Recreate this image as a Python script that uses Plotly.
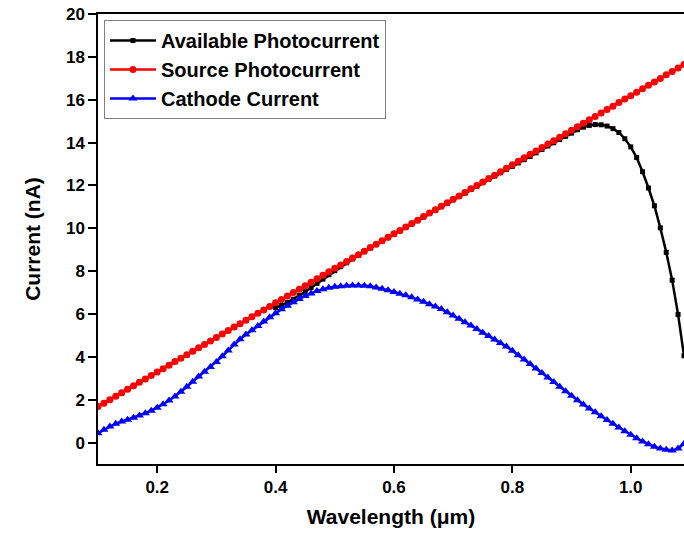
import plotly.graph_objects as go

wavelength = [0.10, 0.11, 0.12, 0.13, 0.14, 0.15, 0.16, 0.17, 0.18, 0.19,
              0.20, 0.21, 0.22, 0.23, 0.24, 0.25, 0.26, 0.27, 0.28, 0.29,
              0.30, 0.31, 0.32, 0.33, 0.34, 0.35, 0.36, 0.37, 0.38, 0.39,
              0.40, 0.41, 0.42, 0.43, 0.44, 0.45, 0.46, 0.47, 0.48, 0.49,
              0.50, 0.51, 0.52, 0.53, 0.54, 0.55, 0.56, 0.57, 0.58, 0.59,
              0.60, 0.61, 0.62, 0.63, 0.64, 0.65, 0.66, 0.67, 0.68, 0.69,
              0.70, 0.71, 0.72, 0.73, 0.74, 0.75, 0.76, 0.77, 0.78, 0.79,
              0.80, 0.81, 0.82, 0.83, 0.84, 0.85, 0.86, 0.87, 0.88, 0.89,
              0.90, 0.91, 0.92, 0.93, 0.94, 0.95, 0.96, 0.97, 0.98, 0.99,
              1.00, 1.01, 1.02, 1.03, 1.04, 1.05, 1.06, 1.07, 1.08, 1.09]

available = [1.68, 1.84, 2.00, 2.16, 2.32, 2.49, 2.65, 2.81, 2.97, 3.13,
             3.29, 3.45, 3.61, 3.78, 3.94, 4.10, 4.26, 4.42, 4.58, 4.74,
             4.90, 5.07, 5.23, 5.39, 5.55, 5.71, 5.87, 6.03, 6.19, 6.35,
             6.30, 6.40, 6.54, 6.69, 6.86, 7.04, 7.23, 7.43, 7.63, 7.83,
             8.02, 8.21, 8.39, 8.57, 8.74, 8.91, 9.08, 9.24, 9.40, 9.56,
             9.72, 9.88, 10.04, 10.20, 10.36, 10.53, 10.69, 10.85, 11.01, 11.17,
             11.33, 11.49, 11.65, 11.81, 11.97, 12.13, 12.28, 12.44, 12.59, 12.74,
             12.89, 13.05, 13.20, 13.35, 13.52, 13.68, 13.84, 13.99, 14.14, 14.29,
             14.44, 14.60, 14.72, 14.80, 14.84, 14.83, 14.77, 14.65, 14.47, 14.18,
             13.80, 13.30, 12.64, 11.88, 11.05, 10.02, 8.88, 7.58, 5.98, 4.05]

source = [1.68, 1.84, 2.00, 2.16, 2.32, 2.49, 2.65, 2.81, 2.97, 3.13,
          3.29, 3.45, 3.61, 3.78, 3.94, 4.10, 4.26, 4.42, 4.58, 4.74,
          4.90, 5.07, 5.23, 5.39, 5.55, 5.71, 5.87, 6.03, 6.19, 6.35,
          6.52, 6.68, 6.84, 7.00, 7.16, 7.32, 7.48, 7.64, 7.81, 7.97,
          8.13, 8.29, 8.45, 8.61, 8.77, 8.93, 9.10, 9.26, 9.42, 9.58,
          9.74, 9.90, 10.06, 10.22, 10.38, 10.55, 10.71, 10.87, 11.03, 11.19,
          11.35, 11.51, 11.67, 11.84, 12.00, 12.16, 12.32, 12.48, 12.64, 12.80,
          12.96, 13.13, 13.29, 13.45, 13.61, 13.77, 13.93, 14.09, 14.25, 14.41,
          14.58, 14.74, 14.90, 15.06, 15.22, 15.38, 15.54, 15.70, 15.87, 16.03,
          16.19, 16.35, 16.51, 16.67, 16.83, 16.99, 17.16, 17.32, 17.48, 17.64]

cathode = [0.44, 0.60, 0.75, 0.88, 0.98, 1.07, 1.16, 1.26, 1.37, 1.49,
           1.63, 1.79, 1.96, 2.15, 2.37, 2.60, 2.84, 3.08, 3.31, 3.53,
           3.76, 4.03, 4.30, 4.58, 4.82, 5.04, 5.24, 5.44, 5.65, 5.85,
           6.04, 6.22, 6.39, 6.55, 6.70, 6.84, 6.96, 7.07, 7.16, 7.23,
           7.27, 7.30, 7.32, 7.33, 7.33, 7.32, 7.29, 7.24, 7.18, 7.11,
           7.03, 6.95, 6.87, 6.78, 6.68, 6.57, 6.46, 6.35, 6.23, 6.08,
           5.93, 5.78, 5.62, 5.46, 5.30, 5.13, 4.97, 4.81, 4.65, 4.48,
           4.28, 4.08, 3.88, 3.67, 3.46, 3.25, 3.04, 2.83, 2.61, 2.39,
           2.18, 1.98, 1.78, 1.59, 1.41, 1.23, 1.05, 0.88, 0.70, 0.53,
           0.36, 0.20, 0.05, -0.08, -0.19, -0.28, -0.34, -0.37, -0.28, -0.05]

x_ticks = [0.2, 0.4, 0.6, 0.8, 1.0]
x_tick_labels = ["0.2", "0.4", "0.6", "0.8", "1.0"]
y_ticks = [0, 2, 4, 6, 8, 10, 12, 14, 16, 18, 20]

FONT = "Liberation Sans, Arial, sans-serif"

fig = go.Figure()
fig.add_trace(go.Scatter(
    x=wavelength, y=available, mode="lines+markers", name="Available Photocurrent",
    line=dict(color="#000000", width=2.5),
    marker=dict(symbol="square", size=5, color="#000000"),
    legendgroup="a"))
fig.add_trace(go.Scatter(
    x=wavelength, y=source, mode="lines+markers", name="Source Photocurrent",
    line=dict(color="#FF0000", width=2.5),
    marker=dict(symbol="circle", size=7, color="#FF0000"),
    legendgroup="b"))
fig.add_trace(go.Scatter(
    x=wavelength, y=cathode, mode="lines+markers", name="Cathode Current",
    line=dict(color="#0000FF", width=2.5),
    marker=dict(symbol="triangle-up", size=8, color="#0000FF"),
    legendgroup="c"))

fig.update_layout(
    width=684, height=540,
    margin=dict(l=98, r=0, t=14, b=76),
    paper_bgcolor="white", plot_bgcolor="white",
    font=dict(family=FONT, color="black"),
    showlegend=True,
    legend=dict(
        x=0.0102, y=0.9867, xanchor="left", yanchor="top",
        bgcolor="white", bordercolor="#808080", borderwidth=1,
        font=dict(family=FONT, size=20, color="black", weight="bold"),
        itemwidth=46, traceorder="normal",
    ),
    xaxis=dict(
        range=[0.1, 1.09], tickvals=x_ticks, ticktext=x_tick_labels,
        showline=True, linecolor="black", linewidth=1.5, mirror=True,
        ticks="outside", ticklen=7, tickwidth=1.5, tickcolor="black",
        showgrid=False, zeroline=False,
        tickfont=dict(family=FONT, size=17, color="black", weight="bold"),
        title=dict(text="Wavelength (\u03bcm)", standoff=13,
                   font=dict(family=FONT, size=21, color="black", weight="bold")),
    ),
    yaxis=dict(
        range=[-1, 20], tickvals=y_ticks,
        showline=True, linecolor="black", linewidth=1.5, mirror=False,
        ticks="outside", ticklen=8, tickwidth=1.5, tickcolor="black",
        showgrid=False, zeroline=False,
        tickfont=dict(family=FONT, size=17, color="black", weight="bold"),
        title=dict(text="Current (nA)", standoff=20,
                   font=dict(family=FONT, size=21, color="black", weight="bold")),
    ),
)

fig.write_html("out.html")
